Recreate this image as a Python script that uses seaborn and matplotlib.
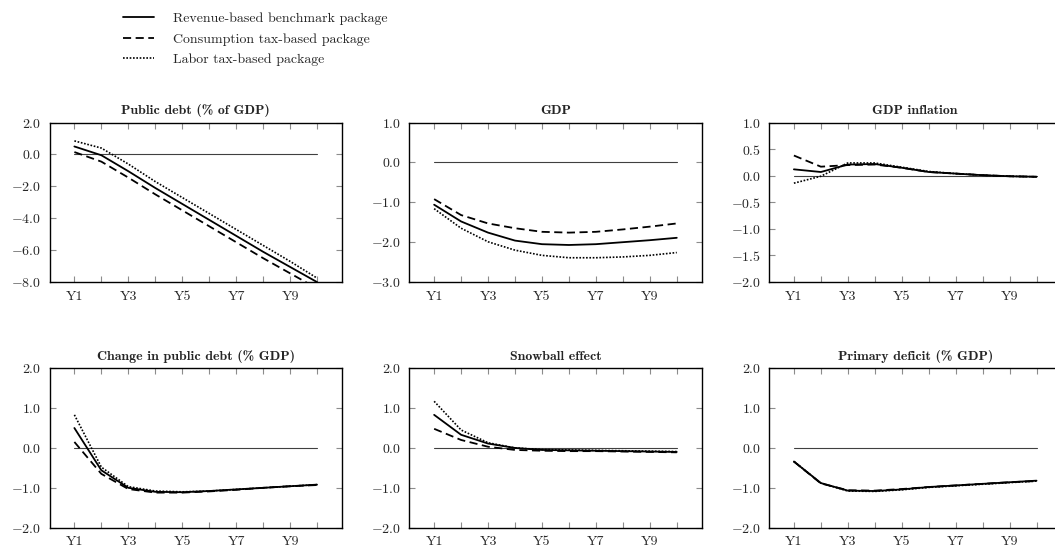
import matplotlib
matplotlib.use("Agg")
import matplotlib.pyplot as plt
import seaborn as sns
import pandas as pd

years = ["Y1", "Y2", "Y3", "Y4", "Y5", "Y6", "Y7", "Y8", "Y9", "Y10"]
series_names = ["Revenue-based benchmark package",
                "Consumption tax-based package",
                "Labor tax-based package"]

titles = ["Public debt (% of GDP)", "GDP", "GDP inflation",
          "Change in public debt (% GDP)", "Snowball effect", "Primary deficit (% GDP)"]

debt_rev = [0.5, -0.05, -1.05, -2.1, -3.1, -4.1, -5.1, -6.1, -7.05, -8.0]
debt_cons = [0.15, -0.45, -1.45, -2.5, -3.5, -4.5, -5.5, -6.5, -7.45, -8.4]
debt_lab = [0.85, 0.4, -0.6, -1.7, -2.7, -3.7, -4.7, -5.7, -6.7, -7.75]

gdp_rev = [-1.06, -1.48, -1.76, -1.96, -2.05, -2.07, -2.05, -2.0, -1.95, -1.89]
gdp_cons = [-0.92, -1.32, -1.53, -1.65, -1.74, -1.76, -1.74, -1.68, -1.61, -1.53]
gdp_lab = [-1.16, -1.65, -1.99, -2.2, -2.33, -2.39, -2.39, -2.37, -2.33, -2.26]

infl_rev = [0.12, 0.07, 0.21, 0.22, 0.15, 0.07, 0.04, 0.01, -0.01, -0.02]
infl_cons = [0.38, 0.17, 0.2, 0.21, 0.15, 0.07, 0.04, 0.01, -0.01, -0.02]
infl_lab = [-0.14, -0.01, 0.24, 0.24, 0.16, 0.08, 0.04, 0.01, -0.01, -0.02]

chg_rev = [0.5, -0.56, -1.0, -1.1, -1.11, -1.08, -1.04, -1.0, -0.96, -0.92]
chg_cons = [0.15, -0.65, -1.03, -1.12, -1.12, -1.09, -1.05, -1.0, -0.96, -0.93]
chg_lab = [0.83, -0.48, -0.97, -1.08, -1.1, -1.08, -1.04, -1.0, -0.96, -0.92]

snow_rev = [0.83, 0.33, 0.11, 0.0, -0.05, -0.06, -0.07, -0.08, -0.09, -0.1]
snow_cons = [0.48, 0.2, 0.03, -0.05, -0.07, -0.08, -0.08, -0.09, -0.1, -0.11]
snow_lab = [1.17, 0.45, 0.13, 0.0, -0.04, -0.05, -0.06, -0.07, -0.08, -0.09]

prim_rev = [-0.34, -0.88, -1.07, -1.08, -1.04, -0.98, -0.94, -0.9, -0.86, -0.82]
prim_cons = [-0.34, -0.89, -1.06, -1.07, -1.03, -0.98, -0.94, -0.9, -0.86, -0.83]
prim_lab = [-0.34, -0.88, -1.08, -1.09, -1.05, -0.99, -0.95, -0.91, -0.87, -0.83]

panel_data = [
    (debt_rev, debt_cons, debt_lab),
    (gdp_rev, gdp_cons, gdp_lab),
    (infl_rev, infl_cons, infl_lab),
    (chg_rev, chg_cons, chg_lab),
    (snow_rev, snow_cons, snow_lab),
    (prim_rev, prim_cons, prim_lab),
]
y_ticks = [
    [2.0, 0.0, -2.0, -4.0, -6.0, -8.0],
    [1.0, 0.0, -1.0, -2.0, -3.0],
    [1.0, 0.5, 0.0, -0.5, -1.0, -1.5, -2.0],
    [2.0, 1.0, 0.0, -1.0, -2.0],
    [2.0, 1.0, 0.0, -1.0, -2.0],
    [2.0, 1.0, 0.0, -1.0, -2.0],
]

sns.set_theme(style="ticks")
plt.rcParams["font.family"] = ["cmr10", "DejaVu Serif"]
plt.rcParams["mathtext.fontset"] = "cm"
plt.rcParams["axes.unicode_minus"] = False

fig = plt.figure(figsize=(10.55, 5.52), dpi=100)

styles = [
    dict(color="black", lw=1.3, ls="-"),
    dict(color="black", lw=1.3, ls=(0, (4.5, 2.5))),
    dict(color="black", lw=1.2, ls=(0, (1, 1))),
]

lefts = [0.047, 0.388, 0.729]
bottoms = [0.489, 0.044]
w, h = 0.277, 0.289

xpos = list(range(1, 11))
handles = []
for i, (data, title, yt) in enumerate(zip(panel_data, titles, y_ticks)):
    ax = fig.add_axes([lefts[i % 3], bottoms[i // 3], w, h])
    df = pd.DataFrame({"x": xpos * 3,
                       "value": list(data[0]) + list(data[1]) + list(data[2]),
                       "series": [n for n in series_names for _ in xpos]})
    ax.plot([1, 10], [0, 0], color="0.25", lw=0.8, zorder=1)
    for name, st in zip(series_names, styles):
        sub = df[df["series"] == name]
        sns.lineplot(data=sub, x="x", y="value", ax=ax, label=name, legend=False, **st)
    if i == 0:
        handles = ax.get_lines()[1:4]
    ax.set_xlim(0.08, 10.92)
    ax.set_ylim(min(yt), max(yt))
    ax.set_xticks(xpos)
    ax.set_xticklabels([y if k % 2 == 0 else "" for k, y in enumerate(years)], fontsize=10)
    ax.set_yticks(yt)
    ax.set_yticklabels(["$%.1f$" % v for v in yt], fontsize=10)
    ax.tick_params(direction="in", length=4, width=0.8, color="0.55",
                   top=True, right=True, pad=6)
    ax.set_xlabel("")
    ax.set_ylabel("")
    for sp in ax.spines.values():
        sp.set_linewidth(1.0)
        sp.set_color("black")
    ax.set_title(title, fontsize=10, family=["cmb10", "DejaVu Serif"], pad=6)

fig.legend(handles=handles, labels=series_names, loc="upper left",
           bbox_to_anchor=(0.105, 1.0), frameon=False, fontsize=10,
           handlelength=2.2, handletextpad=1.4, labelspacing=0.55)

fig.savefig("out.png", dpi=100)
